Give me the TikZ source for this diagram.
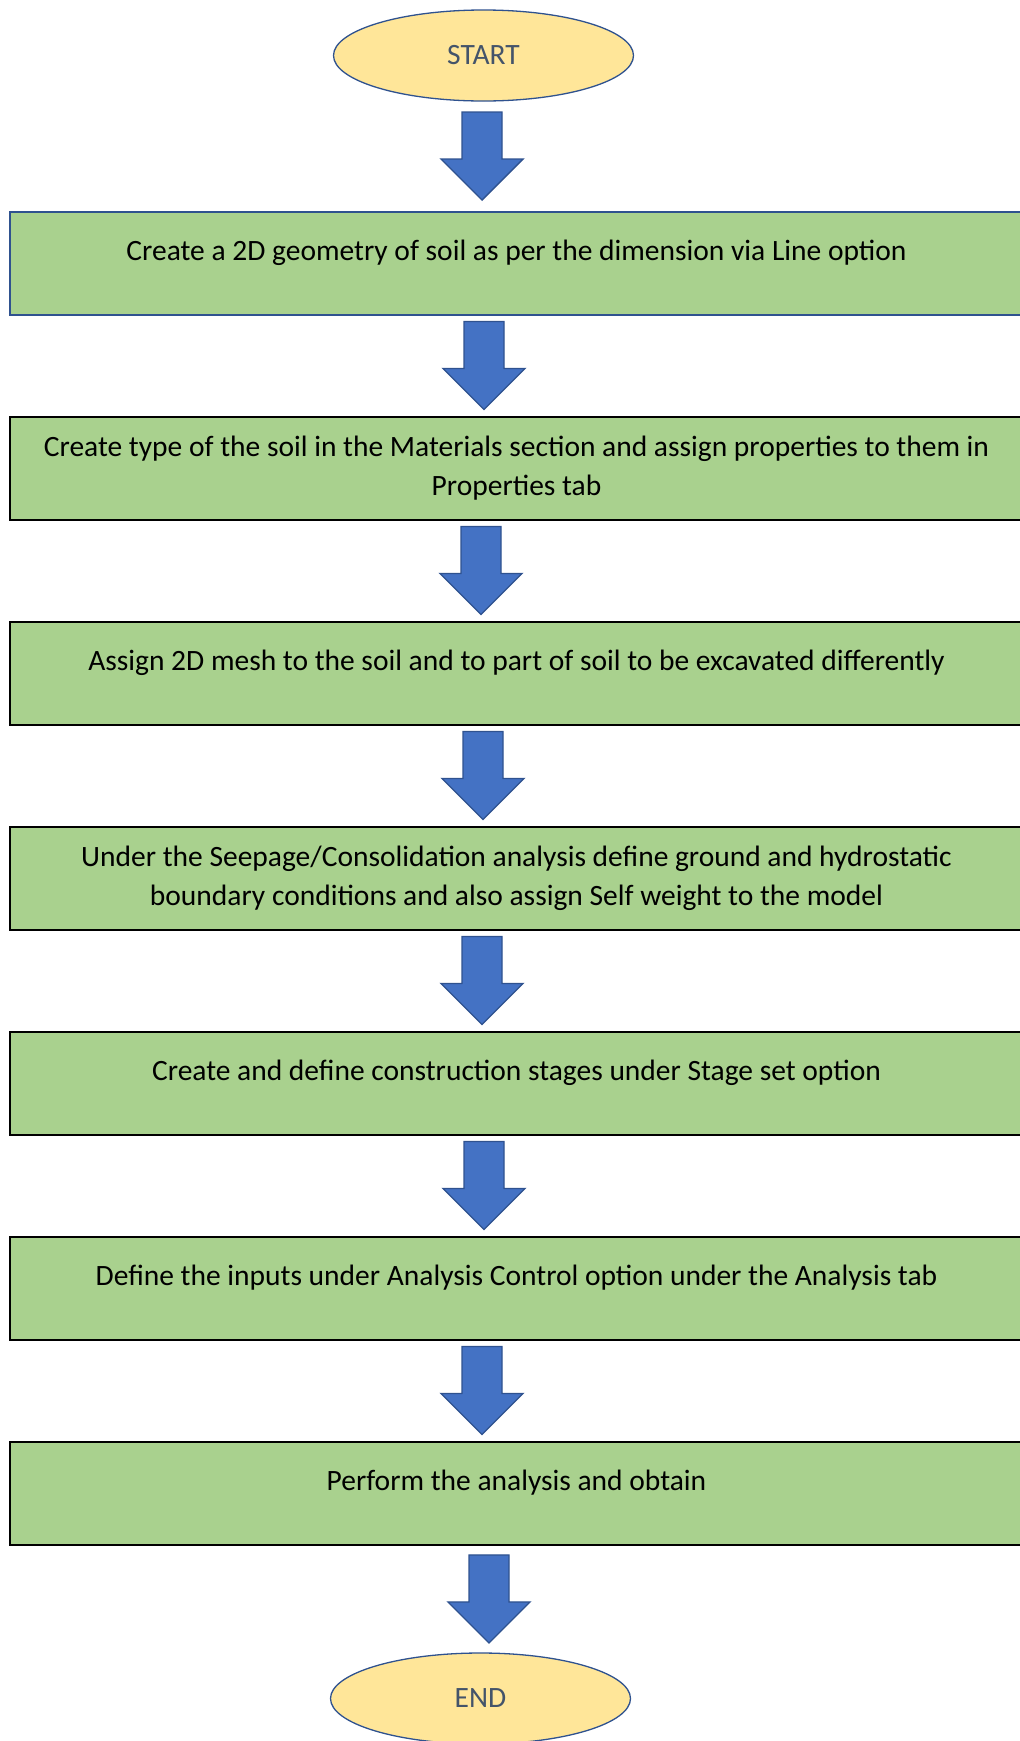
\documentclass[tikz,border=0pt]{standalone}
\usepackage{fontspec}
\setmainfont{Carlito}
\usetikzlibrary{positioning,calc,shapes.geometric}
\definecolor{flowyellow}{HTML}{FFE699}
\definecolor{flowgreen}{HTML}{A9D18E}
\definecolor{flowblue}{HTML}{4472C4}
\definecolor{flowedge}{HTML}{2F528F}
\definecolor{flowtext}{HTML}{44546A}

\begin{document}
\begin{tikzpicture}[x=1pt,y=-1pt,
  font=\fontsize{29.5}{39}\selectfont,
  terminal/.style={ellipse,draw=flowedge,line width=1.3pt,fill=flowyellow,
    text=flowtext,minimum width=300pt,minimum height=91pt,inner sep=0pt},
  stepbox/.style={rectangle,draw=black,line width=2pt,fill=flowgreen,
    minimum width=1013pt,minimum height=103pt,align=center},
  oneline/.style={text height=21pt,text depth=27pt},
  blockarrow/.style={draw=flowedge,line width=1.3pt,fill=flowblue,line join=miter}]
  \useasboundingbox (0,0) rectangle (1020,1741);
  \clip (0,0) rectangle (1020,1741);

  % terminals
  \node[terminal] (start) at (483.5,55.5) {START};
  \node[terminal] (finish) at (480.5,1698.5) {END};

  % steps
  \node[stepbox,oneline,draw=flowedge] (s1) at (516.5,263) {Create a 2D geometry of soil as per the dimension via Line option};
  \node[stepbox,below=100pt of s1] (s2) {Create type of the soil in the Materials section and assign properties to them in\\Properties tab};
  \node[stepbox,oneline,below=100pt of s2] (s3) {Assign 2D mesh to the soil and to part of soil to be excavated differently};
  \node[stepbox,below=100pt of s3] (s4) {Under the Seepage/Consolidation analysis define ground and hydrostatic\\boundary conditions and also assign Self weight to the model};
  \node[stepbox,oneline,below=100pt of s4] (s5) {Create and define construction stages under Stage set option};
  \node[stepbox,oneline,below=100pt of s5] (s6) {Define the inputs under Analysis Control option under the Analysis tab};
  \node[stepbox,oneline,below=100pt of s6] (s7) {Perform the analysis and obtain};

  % block arrows
  \foreach \a/\b/\c in {start/s1/482,s1/s2/484,s2/s3/481,s3/s4/483,s4/s5/482,s5/s6/484,s6/s7/482,s7/finish/489}{
    \coordinate (mid) at ($(\a.south)!0.5!(\b.north)$);
    \coordinate (m) at (mid -| \c,0);
    \draw[blockarrow] ($(m)+(-20,-44)$) -- ++(40,0) -- ++(0,47) -- ++(21,0)
      -- ($(m)+(0,44)$) -- ++(-41,-41) -- ++(21,0) -- cycle;
  }
\end{tikzpicture}
\end{document}
